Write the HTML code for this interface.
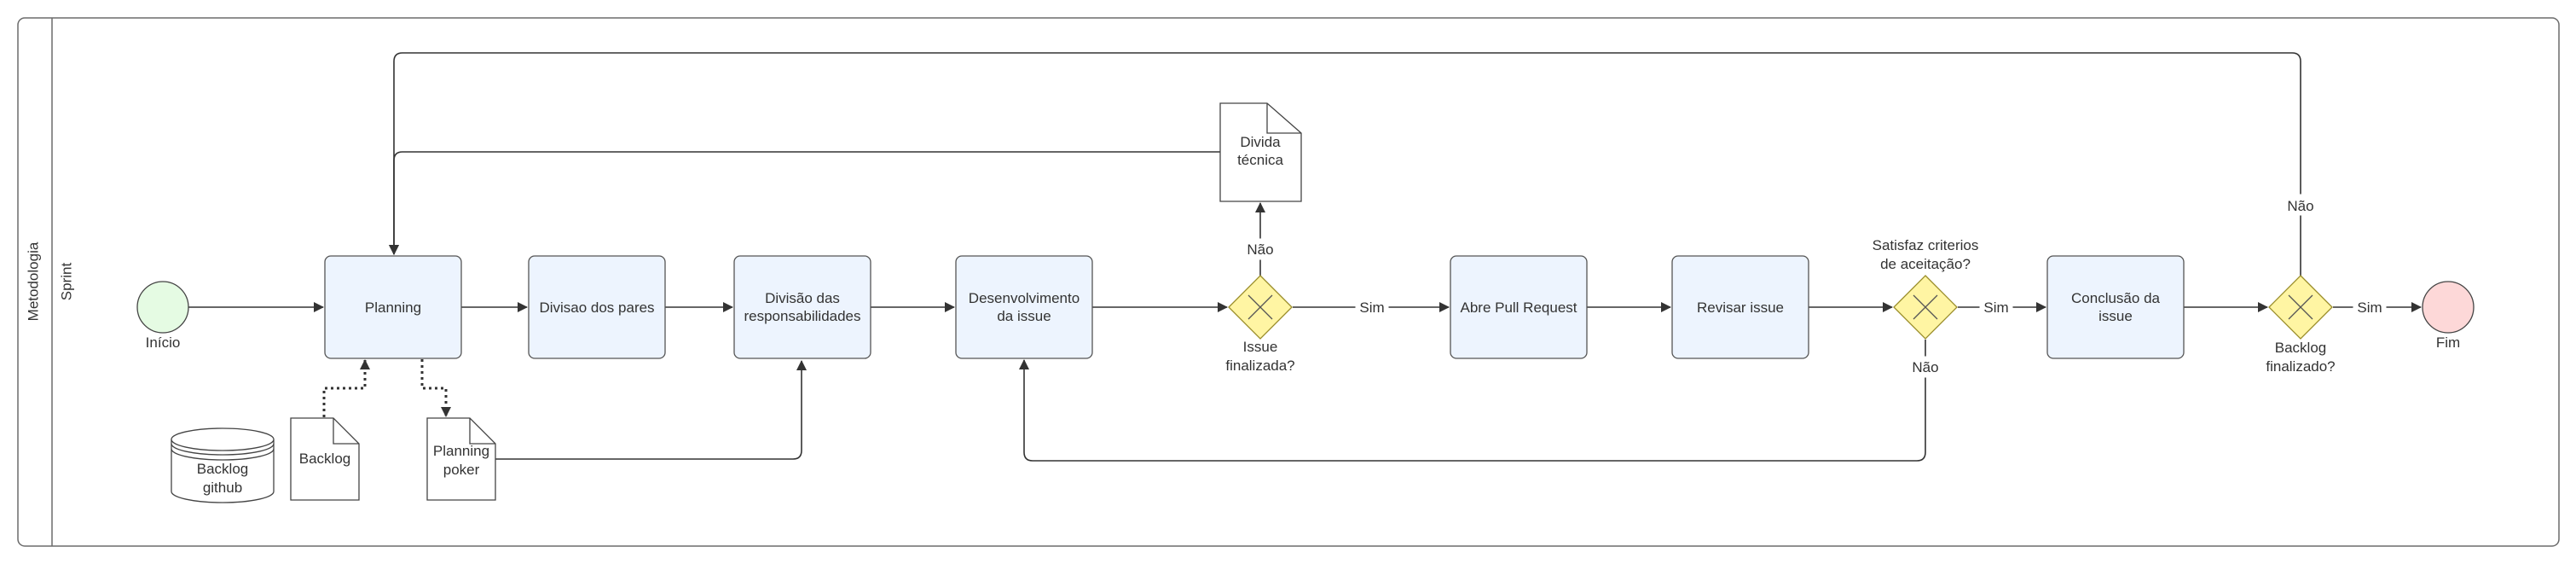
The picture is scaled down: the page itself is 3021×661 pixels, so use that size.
<!DOCTYPE html>
<html><head><meta charset="utf-8"><style>
html,body{margin:0;padding:0;background:#fff;}
svg{display:block;}
text{font-family:"Liberation Sans",sans-serif;fill:#333;}
</style></head><body>
<svg width="3021" height="661" viewBox="0 0 3021 661" xmlns="http://www.w3.org/2000/svg">
<defs>
<marker id="a" markerWidth="12" markerHeight="12" refX="11" refY="6" orient="auto" markerUnits="userSpaceOnUse">
<path d="M0,0 L12,6 L0,12 Z" fill="#333"/></marker>
</defs>
<rect x="21" y="21" width="2980" height="619" rx="8" fill="#fff" stroke="#6b6b6b" stroke-width="1.5"/>
<line x1="61" y1="21" x2="61" y2="640" stroke="#6b6b6b" stroke-width="1.5"/>
<text x="40" y="330" font-size="17" text-anchor="middle" transform="rotate(-90 40 330)" dominant-baseline="middle">Metodologia</text>
<text x="79" y="330" font-size="17" text-anchor="middle" transform="rotate(-90 79 330)" dominant-baseline="middle">Sprint</text>

<g fill="none" stroke="#333" stroke-width="1.6">
<path d="M221,360 H379" marker-end="url(#a)"/>
<path d="M541,360 H618" marker-end="url(#a)"/>
<path d="M780,360 H859" marker-end="url(#a)"/>
<path d="M1021,360 H1119" marker-end="url(#a)"/>
<path d="M1281,360 H1439" marker-end="url(#a)"/>
<path d="M1516,360 H1699" marker-end="url(#a)"/>
<path d="M1861,360 H1959" marker-end="url(#a)"/>
<path d="M2121,360 H2219" marker-end="url(#a)"/>
<path d="M2296,360 H2399" marker-end="url(#a)"/>
<path d="M2561,360 H2659" marker-end="url(#a)"/>
<path d="M2736,360 H2839" marker-end="url(#a)"/>
<path d="M1478,323 V238" marker-end="url(#a)"/>
<path d="M1431,178 H472 Q462,178 462,188 V298" marker-end="url(#a)"/>
<path d="M2698,323 V72 Q2698,62 2688,62 H472 Q462,62 462,72 V298" marker-end="url(#a)"/>
<path d="M2258,398 V530 Q2258,540 2248,540 H1211 Q1201,540 1201,530 V422" marker-end="url(#a)"/>
<path d="M581,538 H930 Q940,538 940,528 V423" marker-end="url(#a)"/>
<path d="M380,489 V455 H428 V422" stroke-dasharray="3,4" stroke-width="3" marker-end="url(#a)"/>
<path d="M495,421 V455 H523 V488" stroke-dasharray="3,4" stroke-width="3" marker-end="url(#a)"/>
</g>

<g fill="#fff" stroke="#fff">
<rect x="1458" y="280" width="40" height="24"/>
<rect x="1590" y="349" width="38" height="22"/>
<rect x="2322" y="349" width="38" height="22"/>
<rect x="2760" y="349" width="38" height="22"/>
<rect x="2238" y="418" width="40" height="24"/>
<rect x="2678" y="228" width="40" height="24"/>
</g>

<circle cx="191" cy="360" r="30" fill="#e5fbe3" stroke="#444" stroke-width="1.3"/>
<circle cx="2871" cy="360" r="30" fill="#fdd8d8" stroke="#444" stroke-width="1.3"/>

<g fill="#edf4fe" stroke="#555" stroke-width="1.3">
<rect x="381" y="300" width="160" height="120" rx="7"/>
<rect x="620" y="300" width="160" height="120" rx="7"/>
<rect x="861" y="300" width="160" height="120" rx="7"/>
<rect x="1121" y="300" width="160" height="120" rx="7"/>
<rect x="1701" y="300" width="160" height="120" rx="7"/>
<rect x="1961" y="300" width="160" height="120" rx="7"/>
<rect x="2401" y="300" width="160" height="120" rx="7"/>
</g>

<g stroke="#9a8d2a" stroke-width="1.3">
<g transform="translate(1478,360)"><path d="M0,-37 L37,0 L0,37 L-37,0 Z" fill="#fff5a3"/><path d="M-14,-14 L14,14 M14,-14 L-14,14" stroke="#555"/></g>
<g transform="translate(2258,360)"><path d="M0,-37 L37,0 L0,37 L-37,0 Z" fill="#fff5a3"/><path d="M-14,-14 L14,14 M14,-14 L-14,14" stroke="#555"/></g>
<g transform="translate(2698,360)"><path d="M0,-37 L37,0 L0,37 L-37,0 Z" fill="#fff5a3"/><path d="M-14,-14 L14,14 M14,-14 L-14,14" stroke="#555"/></g>
</g>

<g fill="#fff" stroke="#444" stroke-width="1.3">
<path d="M341,490 H391 L421,520 V586 H341 Z"/><path d="M391,490 V520 H421" fill="none"/>
<path d="M501,490 H551 L581,520 V586 H501 Z"/><path d="M551,490 V520 H581" fill="none"/>
<path d="M1431,121 H1486 L1526,156 V236 H1431 Z"/><path d="M1486,121 V156 H1526" fill="none"/>
<path d="M201,515 V576 A60,13 0 0 0 321,576 V515"/>
<ellipse cx="261" cy="515" rx="60" ry="13"/>
<path d="M201,520 A60,13 0 0 0 321,520 M201,526 A60,13 0 0 0 321,526" fill="none"/>
</g>

<g font-size="17" text-anchor="middle">
<text x="191" y="407">Início</text>
<text x="2871" y="407">Fim</text>
<text x="461" y="366">Planning</text>
<text x="700" y="366">Divisao dos pares</text>
<text x="941" y="355">Divisão das</text><text x="941" y="376">responsabilidades</text>
<text x="1201" y="355">Desenvolvimento</text><text x="1201" y="376">da issue</text>
<text x="1781" y="366">Abre Pull Request</text>
<text x="2041" y="366">Revisar issue</text>
<text x="2481" y="355">Conclusão da</text><text x="2481" y="376">issue</text>
<text x="1478" y="298">Não</text>
<text x="1609" y="366">Sim</text>
<text x="2341" y="366">Sim</text>
<text x="2779" y="366">Sim</text>
<text x="2258" y="436">Não</text>
<text x="2698" y="247">Não</text>
<text x="1478" y="412">Issue</text><text x="1478" y="434">finalizada?</text>
<text x="2258" y="293">Satisfaz criterios</text><text x="2258" y="315">de aceitação?</text>
<text x="2698" y="413">Backlog</text><text x="2698" y="435">finalizado?</text>
<text x="381" y="543">Backlog</text>
<text x="541" y="534">Planning</text><text x="541" y="556">poker</text>
<text x="1478" y="172">Divida</text><text x="1478" y="193">técnica</text>
<text x="261" y="555">Backlog</text><text x="261" y="577">github</text>
</g>
</svg>
</body></html>
